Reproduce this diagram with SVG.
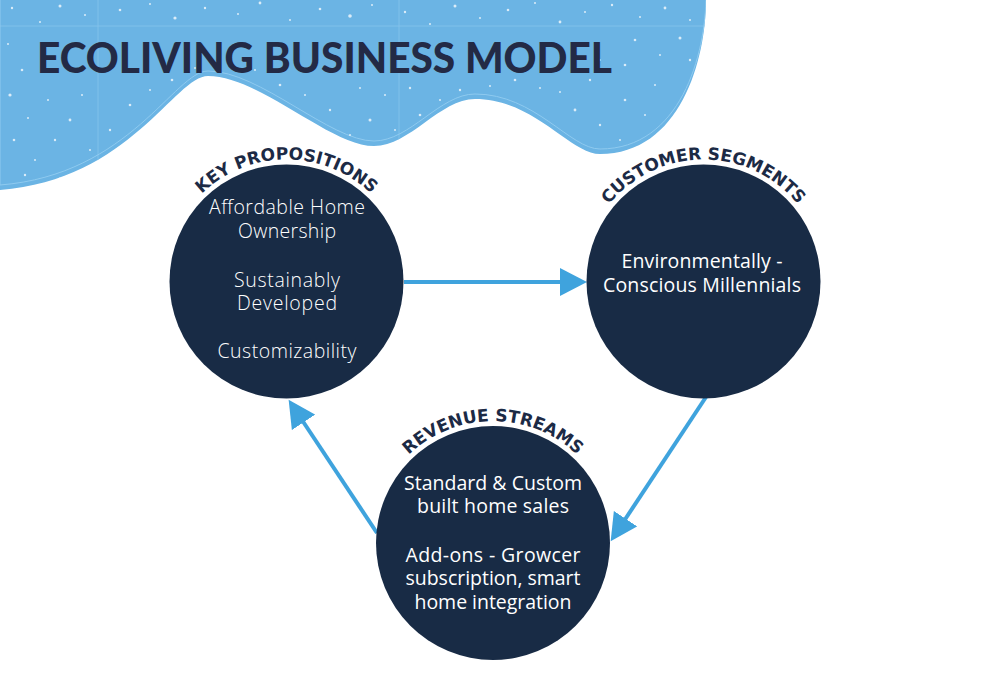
<svg xmlns="http://www.w3.org/2000/svg" width="993" height="697" viewBox="0 0 993 697">
<defs>
<style>
.node{fill:#182b45}
.lbl{font-family:"DejaVu Sans",sans-serif;font-weight:bold;font-size:17px;fill:#1c2a45}
.body{font-family:"Open Sans","Liberation Sans",sans-serif;font-size:19.5px;fill:#ffffff;text-anchor:middle}
.light{font-weight:300}
.conn{stroke:#3fa3dd;stroke-width:4;fill:none}
.dot{fill:#ffffff;opacity:0.75}
</style>
<marker id="ah" viewBox="0 0 28 28" markerWidth="28" markerHeight="28" markerUnits="userSpaceOnUse" refX="1" refY="14" orient="auto">
<path d="M0,0 L27,14 L0,28 Z" fill="#3fa3dd"/>
</marker>
<clipPath id="blobclip"><path d="M0,0 L706,0 C706,60 680,154 600,154 C570,154 535,99 475,99 C440,99 410,146 374,146 C330,146 260,76 208,76 C175,76 130,180 0,190 Z"/></clipPath>
<path id="arcK" d="M164.5,281.5 A122,122 0 0 1 408.5,281.5"/>
<path id="arcC" d="M581.5,281.5 A122,122 0 0 1 825.5,281.5"/>
<path id="arcR" d="M371,543 A122,122 0 0 1 615,543"/>
</defs>
<rect width="993" height="697" fill="#ffffff"/>
<g id="background">
<path d="M0,0 L706,0 C706,60 680,154 600,154 C570,154 535,99 475,99 C440,99 410,146 374,146 C330,146 260,76 208,76 C175,76 130,180 0,190 Z" fill="#6bb4e4"/>
<g clip-path="url(#blobclip)">
<path d="M0,26 H706 M98,0 V200 M399,0 V200" stroke="#82c1ea" stroke-width="1" fill="none"/>
<path d="M0,0 L706,0 C706,60 680,154 600,154 C570,154 535,99 475,99 C440,99 410,146 374,146 C330,146 260,76 208,76 C175,76 130,180 0,190 Z" transform="translate(0,-5)" stroke="#8fcaef" stroke-width="1" fill="none"/>
<g class="dot">
<circle cx="12" cy="8" r="1.2"/><circle cx="40" cy="22" r="1"/><circle cx="60" cy="6" r="1.5"/><circle cx="85" cy="15" r="1"/><circle cx="120" cy="10" r="1.3"/><circle cx="150" cy="4" r="1"/><circle cx="175" cy="18" r="1.6"/><circle cx="205" cy="8" r="1.2"/><circle cx="238" cy="14" r="1"/><circle cx="260" cy="3" r="1.4"/><circle cx="290" cy="20" r="1"/><circle cx="320" cy="9" r="1.3"/><circle cx="350" cy="16" r="1.8"/><circle cx="372" cy="5" r="1"/><circle cx="405" cy="12" r="1.2"/><circle cx="430" cy="24" r="1"/><circle cx="455" cy="6" r="1.5"/><circle cx="480" cy="18" r="1"/><circle cx="508" cy="10" r="1.3"/><circle cx="535" cy="3" r="1"/><circle cx="560" cy="22" r="1.4"/><circle cx="585" cy="12" r="1"/><circle cx="612" cy="5" r="1.2"/><circle cx="640" cy="17" r="1"/><circle cx="665" cy="8" r="1.4"/><circle cx="690" cy="20" r="1"/>
<circle cx="8" cy="44" r="1"/><circle cx="22" cy="70" r="1.3"/><circle cx="10" cy="95" r="1.6"/><circle cx="28" cy="118" r="1"/><circle cx="14" cy="140" r="1.3"/><circle cx="35" cy="160" r="1"/><circle cx="55" cy="140" r="1.2"/><circle cx="48" cy="100" r="1"/><circle cx="70" cy="120" r="1.4"/><circle cx="90" cy="150" r="1"/><circle cx="110" cy="130" r="1.2"/><circle cx="82" cy="95" r="1"/><circle cx="130" cy="105" r="1.3"/><circle cx="150" cy="90" r="1"/><circle cx="25" cy="175" r="1.2"/><circle cx="60" cy="178" r="1"/><circle cx="105" cy="168" r="1.1"/>
<circle cx="635" cy="40" r="1.3"/><circle cx="660" cy="55" r="1"/><circle cx="680" cy="38" r="1.5"/><circle cx="655" cy="85" r="1"/><circle cx="625" cy="100" r="1.3"/><circle cx="645" cy="115" r="1"/><circle cx="600" cy="125" r="1.2"/><circle cx="620" cy="140" r="1"/><circle cx="575" cy="110" r="1.4"/><circle cx="560" cy="92" r="1"/><circle cx="590" cy="80" r="1.2"/><circle cx="540" cy="88" r="1"/><circle cx="515" cy="80" r="1.3"/><circle cx="490" cy="86" r="1"/><circle cx="460" cy="90" r="1.2"/><circle cx="440" cy="100" r="1"/><circle cx="420" cy="115" r="1.3"/><circle cx="395" cy="130" r="1"/><circle cx="370" cy="120" r="1.5"/><circle cx="350" cy="135" r="1"/><circle cx="330" cy="110" r="1.2"/><circle cx="305" cy="95" r="1"/><circle cx="280" cy="85" r="1.3"/><circle cx="255" cy="70" r="1"/><circle cx="230" cy="65" r="1.2"/><circle cx="195" cy="68" r="1"/><circle cx="172" cy="80" r="1.3"/><circle cx="385" cy="95" r="1"/><circle cx="410" cy="88" r="1.2"/><circle cx="360" cy="88" r="1"/><circle cx="600" cy="60" r="1"/><circle cx="625" cy="65" r="1.3"/><circle cx="690" cy="60" r="1.2"/>
</g>
</g>
<text x="37" y="73" font-family="Lato,'Liberation Sans',sans-serif" font-weight="900" font-size="42" fill="#232a45" textLength="575" lengthAdjust="spacingAndGlyphs">ECOLIVING BUSINESS MODEL</text>
</g>
<g id="connectors">
<line class="conn" x1="404" y1="282" x2="561" y2="282" marker-end="url(#ah)"/>
<line class="conn" x1="706" y1="397" x2="625" y2="519.5" marker-end="url(#ah)"/>
<line class="conn" x1="377" y1="533" x2="303" y2="421.5" marker-end="url(#ah)"/>
</g>
<g id="key-propositions">
<circle class="node" cx="286.5" cy="281.5" r="117"/>
<text class="lbl"><textPath href="#arcK" startOffset="50%" text-anchor="middle">KEY PROPOSITIONS</textPath></text>
<text class="body light" x="287" y="214" textLength="156" lengthAdjust="spacing">Affordable Home</text>
<text class="body light" x="287" y="238" textLength="98" lengthAdjust="spacing">Ownership</text>
<text class="body light" x="287" y="286.5" textLength="106" lengthAdjust="spacing">Sustainably</text>
<text class="body light" x="287" y="310" textLength="100" lengthAdjust="spacing">Developed</text>
<text class="body light" x="287" y="358" textLength="139" lengthAdjust="spacing">Customizability</text>
</g>
<g id="customer-segments">
<circle class="node" cx="703.5" cy="281.5" r="117"/>
<text class="lbl"><textPath href="#arcC" startOffset="50%" text-anchor="middle">CUSTOMER SEGMENTS</textPath></text>
<text class="body" x="702" y="268" textLength="161" lengthAdjust="spacing">Environmentally -</text>
<text class="body" x="702" y="292" textLength="198" lengthAdjust="spacing">Conscious Millennials</text>
</g>
<g id="revenue-streams">
<circle class="node" cx="493" cy="543" r="117"/>
<text class="lbl"><textPath href="#arcR" startOffset="50%" text-anchor="middle">REVENUE STREAMS</textPath></text>
<text class="body" x="493" y="490" textLength="178" lengthAdjust="spacing">Standard &amp; Custom</text>
<text class="body" x="493" y="513" textLength="152" lengthAdjust="spacing">built home sales</text>
<text class="body" x="493" y="562" textLength="175" lengthAdjust="spacing">Add-ons - Growcer</text>
<text class="body" x="493" y="585" textLength="175" lengthAdjust="spacing">subscription, smart</text>
<text class="body" x="493" y="609" textLength="157" lengthAdjust="spacing">home integration</text>
</g>
</svg>
